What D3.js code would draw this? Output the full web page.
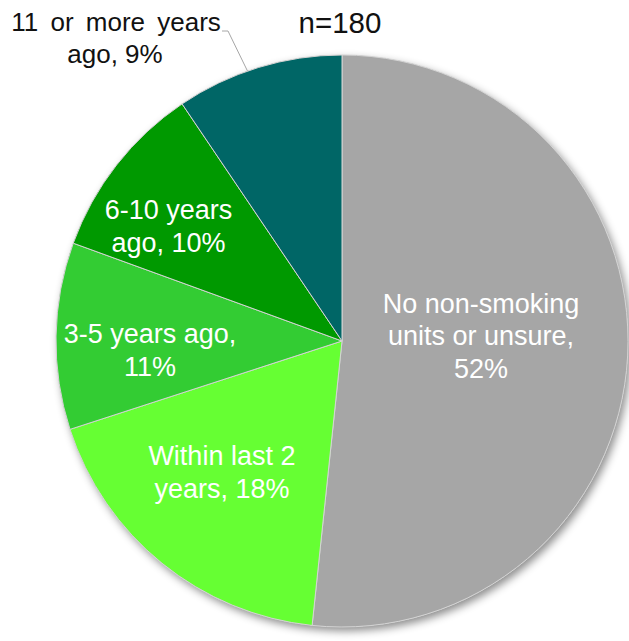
<!DOCTYPE html>
<html>
<head>
<meta charset="utf-8">
<script src="https://cdn.jsdelivr.net/npm/d3@7"></script>
<style>
  body { margin: 0; background: #fff; }
  svg text { font-family: "Liberation Sans", Arial, sans-serif; }
</style>
</head>
<body>
<div class="chart"></div>
<script>
// respondent counts per answer (n=180), clockwise from 12 o'clock
var categories = ["No non-smoking units or unsure", "Within last 2 years", "3-5 years ago", "6-10 years ago", "11 or more years ago"];
var counts = [93, 33, 19, 18, 17];
var labelLines = [
  ["No non-smoking", "units or unsure,", "52%"],
  ["Within last 2", "years, 18%"],
  ["3-5 years ago,", "11%"],
  ["6-10 years", "ago, 10%"],
  ["11 or more years", "ago, 9%"]
];
var colors = ["#a6a6a6", "#66ff33", "#33cc33", "#009900", "#006666"];
var sampleLabel = "n=180";

var width = 629, height = 641;
var cx = 342, cy = 341, radius = 286;

var svg = d3.select("div.chart")
  .append("svg")
  .attr("width", width)
  .attr("height", height);

var defs = svg.append("defs");
var filter = defs.append("filter").attr("id", "shadow")
  .attr("x", "-10%").attr("y", "-10%").attr("width", "125%").attr("height", "125%");
filter.append("feDropShadow")
  .attr("dx", 3).attr("dy", 4).attr("stdDeviation", 4)
  .attr("flood-color", "#000").attr("flood-opacity", 0.45);

var data = categories.map(function (c, i) {
  return { name: c, value: counts[i], lines: labelLines[i], color: colors[i] };
});

var pie = d3.pie().sort(null).value(function (d) { return d.value; });
var arc = d3.arc().innerRadius(0).outerRadius(radius);
var arcs = pie(data);

var g = svg.append("g").attr("transform", "translate(" + cx + "," + cy + ")");

// shadow under the whole pie
g.append("circle").attr("r", radius).style("fill", "#a6a6a6").attr("filter", "url(#shadow)");

g.selectAll("path.slice")
  .data(arcs)
  .enter().append("path")
  .attr("class", "slice")
  .attr("d", arc)
  .style("fill", function (d) { return d.data.color; })
  .style("stroke", "#d4d4d4")
  .style("stroke-width", 1);

// label radius per slice (fraction of the pie radius) and small tweaks
var labelRadius = [0.49, 0.645, 0.675, 0.73];
var labelNudge = [[-1, -12], [-4, -12], [1, 13], [-9, 14]];

arcs.forEach(function (a, i) {
  if (i > 3) return;
  var mid = (a.startAngle + a.endAngle) / 2;
  var r = radius * labelRadius[i];
  var x = Math.sin(mid) * r + labelNudge[i][0];
  var y = -Math.cos(mid) * r + labelNudge[i][1];
  var lines = a.data.lines;
  var lh = 32.5;
  var t = g.append("text")
    .attr("text-anchor", "middle")
    .style("font-size", "27px")
    .style("fill", "#fff");
  lines.forEach(function (l, j) {
    t.append("tspan")
      .attr("x", x)
      .attr("y", y + (j - (lines.length - 1) / 2) * lh + 9)
      .text(l);
  });
});

// outside label for the last slice with a leader line
var last = arcs[4];
var lmid = (last.startAngle + last.endAngle) / 2;
var lx = 115 - cx, ly = 30 - cy;
g.append("path")
  .attr("d", d3.line()([[Math.sin(lmid - 0.04) * radius, -Math.cos(lmid - 0.04) * radius], [228 - cx, 31 - cy], [222 - cx, 31 - cy]]))
  .style("fill", "none")
  .style("stroke", "#a6a6a6")
  .style("stroke-width", 1);
var t5 = g.append("text")
  .attr("text-anchor", "middle")
  .style("font-size", "26px")
  .style("fill", "#111");
last.data.lines.forEach(function (l, j) {
  t5.append("tspan")
    .attr("x", lx + (j === 0 ? 1 : 0))
    .attr("y", ly + 1 + j * 32)
    .style("word-spacing", j === 0 ? "5px" : null)
    .text(l);
});

svg.append("text")
  .attr("x", 340)
  .attr("y", 33)
  .attr("text-anchor", "middle")
  .style("font-size", "29.5px")
  .style("fill", "#111")
  .text(sampleLabel);
</script>
</body>
</html>
